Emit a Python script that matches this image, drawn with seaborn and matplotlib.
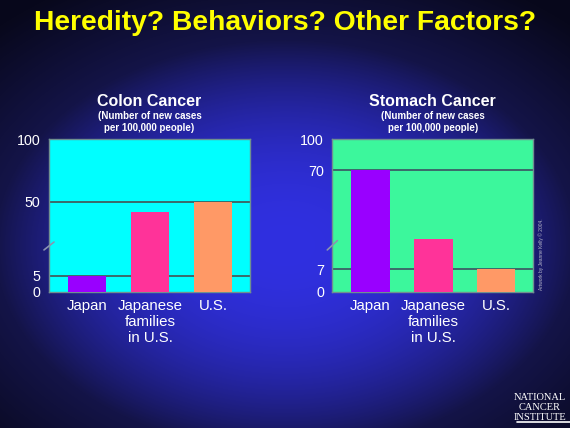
import numpy as np
import pandas as pd
import matplotlib
matplotlib.use("Agg")
import matplotlib.pyplot as plt
import seaborn as sns

# ---------------- data ----------------
categories = ["Japan", "Japanese\nfamilies\nin U.S.", "U.S."]
colon_values = [5, 44, 50]
stomach_values = [70, 26, 7]
colon_ticks = [0, 5, 50, 100]
stomach_ticks = [0, 7, 70, 100]
bar_colors = ["#9900FF", "#FF3399", "#FF9966"]

title = "Heredity? Behaviors? Other Factors?"
colon_title = "Colon Cancer"
stomach_title = "Stomach Cancer"
subtitle = "(Number of new cases\nper 100,000 people)"
credit = "Artwork by Jeanne Kelly \u00a9 2004."

sns.set_theme(style="white")
plt.rcParams["font.family"] = ["Liberation Sans", "DejaVu Sans"]

W, H = 570, 428
fig = plt.figure(figsize=(W / 100, H / 100), dpi=100)

# ---------------- background gradient ----------------
yy, xx = np.mgrid[0:H, 0:W]
d = np.sqrt(((xx - 285) / 290.0) ** 2 + ((yy - 245) / 205.0) ** 2)
center = np.array([0x30, 0x30, 0xE0]) / 255
edge = np.array([0x14, 0x14, 0x48]) / 255
corner = np.array([0x08, 0x08, 0x1C]) / 255
t1 = np.clip(d, 0, 1) ** 2.2
img = center[None, None, :] * (1 - t1[..., None]) + edge[None, None, :] * t1[..., None]
t2 = np.clip((d - 1) / 0.45, 0, 1)
img = img * (1 - t2[..., None]) + corner[None, None, :] * t2[..., None]
bg = fig.add_axes([0, 0, 1, 1])
bg.imshow(img, extent=[0, 1, 0, 1], aspect="auto", origin="upper")
bg.set_xlim(0, 1)
bg.set_ylim(0, 1)
bg.axis("off")


def make_scale(vals, offs):
    vals = np.asarray(vals, float)
    offs = np.asarray(offs, float)

    def fwd(v):
        return np.interp(v, vals, offs)

    def inv(p):
        return np.interp(p, offs, vals)

    return fwd, inv


def draw(ax_rect, values, ticks, offsets, face, ttl, slash_y):
    ax = fig.add_axes(ax_rect)
    df = pd.DataFrame({"cat": categories, "val": values})
    sns.barplot(data=df, x="cat", y="val", hue="cat", palette=bar_colors,
                saturation=1, width=0.61, legend=False, ax=ax, zorder=3,
                edgecolor="none", linewidth=0)
    fwd, inv = make_scale(ticks, offsets)
    ax.set_yscale("function", functions=(fwd, inv))
    ax.set_ylim(0, 100)
    ax.set_xlim(-0.61, 2.59)
    ax.set_facecolor(face)
    for v in ticks[1:3]:
        ax.axhline(v, color="#3B6A6A", lw=1.4, zorder=2)
    ax.set_yticks(ticks)
    ax.set_yticklabels([str(v) for v in ticks])
    ax.yaxis.set_minor_locator(matplotlib.ticker.NullLocator())
    ax.tick_params(axis="both", length=0, colors="white", labelsize=10.3)
    ax.tick_params(axis="y", pad=6)
    ax.tick_params(axis="x", pad=5, labelsize=10.8)
    ax.set_xlabel("")
    ax.set_ylabel("")
    for s in ax.spines.values():
        s.set_color("#6F9090")
        s.set_linewidth(1.0)
    ax.plot([-0.025, 0.025], slash_y, color="#8A93B0", lw=1.2,
            transform=ax.transAxes, clip_on=False, zorder=5)
    # titles
    cx = ax_rect[0] + ax_rect[2] / 2
    fig.text(cx, 1 - 101.5 / H, ttl, ha="center", va="center",
             color="white", fontsize=11.5, fontweight="bold")
    fig.text(cx, 1 - 122 / H, subtitle, ha="center", va="center",
             color="white", fontsize=7, fontweight="bold", linespacing=1.15)
    return ax


h_ax = 152.4 / H
b_ax = 1 - 291.7 / H
draw([49 / W, b_ax, 201 / W, h_ax], colon_values, colon_ticks,
     [0, 16, 90, 152.4], "#00FFFF", colon_title, [0.274, 0.326])
draw([332.3 / W, b_ax, 201 / W, h_ax], stomach_values, stomach_ticks,
     [0, 22.4, 121.7, 152.4], "#3CF79C", stomach_title, [0.274, 0.335])

fig.text(0.5, 1 - 23 / H, title, ha="center", va="center",
         color="#FFFF00", fontsize=20.3, fontweight="bold")

fig.text(541 / W, 1 - 254 / H, credit, rotation=90, ha="center", va="center",
         color="#B8B8C8", fontsize=3.5)

# NCI logo
for i, word in enumerate(["NATIONAL", "CANCER", "INSTITUTE"]):
    fig.text(540 / W, 1 - (397 + i * 10) / H, word, ha="center", va="center",
             color="white", fontsize=7.5, family="Liberation Serif")
fig.lines.append(matplotlib.lines.Line2D([517 / W, 570 / W], [1 - 422 / H, 1 - 422 / H],
                                         color="white", lw=1.2, transform=fig.transFigure))

fig.savefig("out.png", dpi=100)
